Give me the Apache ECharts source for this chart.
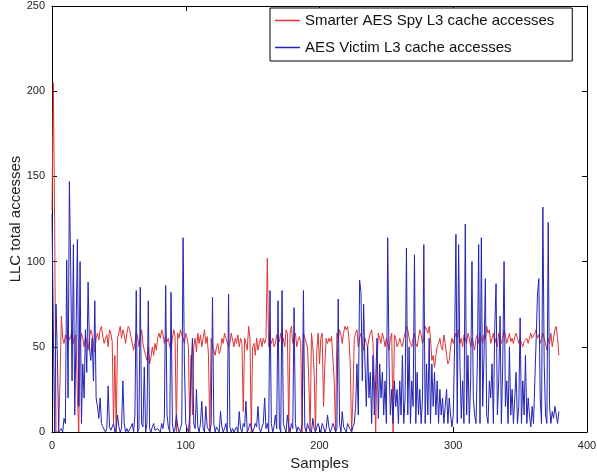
<!DOCTYPE html>
<html>
<head>
<meta charset="utf-8">
<script src="https://cdn.jsdelivr.net/npm/echarts@6/dist/echarts.min.js"></script>
<style>
html,body{margin:0;padding:0;background:#fff;}
#c{width:597px;height:474px;}
</style>
</head>
<body>
<div id="c"></div>
<script>
const seriesNames = ['Smarter AES Spy L3 cache accesses', 'AES Victim L3 cache accesses'];
const xTicks = [0, 100, 200, 300, 400];
const yTicks = [0, 50, 100, 150, 200, 250];

const spy = [
130,205,120,0,0,0,30,68,55,52,
57,55,58,54,56,60,52,55,57,20,
0,52,58,55,50,56,53,48,55,60,
57,52,47,55,58,54,60,62,56,52,
55,57,50,60,58,53,5,45,0,55,
58,62,55,60,57,52,58,62,60,56,
55,48,52,58,56,50,55,60,52,48,
45,42,50,40,44,50,45,52,48,55,
58,55,60,57,52,56,53,55,50,48,
55,60,56,0,58,55,60,57,55,52,
58,55,50,0,45,10,50,55,47,58,
52,57,50,55,60,52,56,45,0,55,
50,48,45,50,52,46,48,55,52,58,
55,56,50,52,58,54,50,55,52,57,
50,55,52,12,55,52,48,62,55,0,
50,52,45,55,48,52,55,50,55,52,
55,102,50,55,52,55,50,52,57,55,
53,58,52,55,50,60,58,0,58,62,
52,55,58,50,54,56,52,0,58,55,
55,50,30,0,58,50,35,0,48,58,
40,55,58,15,40,55,52,55,53,56,
55,30,0,58,55,60,57,52,58,62,
60,62,55,40,0,20,55,58,60,50,
55,58,52,48,55,52,50,55,58,60,
52,30,0,40,58,55,52,58,55,50,
55,52,48,55,58,0,57,55,50,52,
55,52,50,55,58,62,60,55,52,50,
55,58,52,50,55,60,57,52,55,62,
60,58,62,55,42,45,38,45,50,52,
55,50,48,57,52,45,40,42,50,55,
52,55,58,55,60,52,55,50,57,55,
52,58,55,50,55,52,48,55,57,52,
58,55,52,57,55,62,58,60,52,55,
58,52,55,50,58,55,52,55,60,57,
52,55,58,53,55,52,56,58,55,52,
55,52,50,53,52,55,52,55,58,55,
56,58,60,55,57,52,55,58,55,52,
48,55,52,58,50,55,60,62,55,45
];

const victim = [
128,60,0,75,45,0,0,2,0,8,
5,101,20,147,95,30,110,10,60,113,
15,100,5,40,20,60,35,88,50,42,
55,30,77,20,15,8,20,5,3,2,
0,2,27,3,1,0,5,0,2,10,
3,0,2,30,5,0,2,0,1,3,
5,0,10,83,0,2,85,5,3,38,
0,5,77,2,0,3,5,1,0,2,
3,0,5,2,8,86,10,3,0,82,
5,0,2,10,3,0,2,5,114,40,
5,2,0,10,37,55,5,2,25,3,
0,5,18,2,0,15,3,2,0,5,
79,5,0,3,2,0,12,3,0,2,
5,0,81,3,0,2,0,1,3,0,
12,2,0,5,3,18,0,2,5,3,
0,2,5,3,15,2,0,3,5,20,
2,5,0,83,5,0,3,10,2,77,
3,0,83,5,2,0,10,3,0,5,
2,73,5,0,3,2,0,5,83,3,
0,5,2,3,0,8,2,0,3,5,
2,0,5,3,0,2,10,3,0,2,
5,3,0,2,78,5,0,12,3,2,
0,5,3,2,0,3,5,15,40,10,
89,82,30,75,40,15,50,20,35,5,
45,10,30,55,8,40,20,35,10,30,
5,114,40,10,25,5,30,15,25,5,
30,10,45,5,20,108,10,50,5,30,
15,104,5,35,10,25,5,20,110,5,
40,10,55,5,40,15,35,10,30,5,
25,10,20,5,15,25,5,20,10,3,
10,50,116,5,110,40,8,30,5,122,
10,45,5,30,100,20,10,5,40,110,
5,114,15,45,90,10,5,30,20,40,
5,60,87,10,30,68,5,40,100,15,
30,5,50,10,25,5,20,35,5,15,
67,5,30,10,45,5,20,10,3,15,
5,30,55,81,90,20,5,132,40,10,
5,123,15,5,12,8,15,10,5,12
];

const toXY = arr => arr.map((v, i) => [i, v]);
const font = 'Liberation Sans, Arial, Helvetica, sans-serif';

const chart = echarts.init(document.getElementById('c'), null, {renderer: 'canvas'});
const axisCommon = () => ({
  axisLine: {show: true, onZero: false, lineStyle: {color: '#000', width: 1}},
  axisTick: {show: true, inside: true, length: 5, lineStyle: {color: '#000'}},
  splitLine: {show: false}
});
chart.setOption({
  animation: false,
  backgroundColor: '#fff',
  grid: {left: 52, right: 10, top: 6, bottom: 42, containLabel: false, outerBoundsMode: 'none'},
  legend: {
    left: 270, top: 8,
    orient: 'vertical',
    data: seriesNames,
    icon: 'rect',
    itemWidth: 25, itemHeight: 1.5,
    itemGap: 12, itemTextGap: 11,
    padding: [5, 18, 6, 5],
    borderColor: '#000', borderWidth: 1,
    backgroundColor: '#fff',
    textStyle: {fontFamily: font, fontSize: 15, color: '#111'}
  },
  xAxis: [Object.assign({
    type: 'value', min: 0, max: 400, interval: 100,
    name: 'Samples', nameLocation: 'middle', nameGap: 22,
    nameTextStyle: {fontFamily: font, fontSize: 15, color: '#222'},
    axisLabel: {fontFamily: font, fontSize: 11, color: '#222', margin: 8}
  }, axisCommon()), Object.assign({
    type: 'value', min: 0, max: 400, interval: 100, position: 'top',
    axisLabel: {show: false}
  }, axisCommon())],
  yAxis: [Object.assign({
    type: 'value', min: 0, max: 250, interval: 50,
    name: 'LLC total accesses', nameLocation: 'middle', nameGap: 29,
    nameMoveOverlap: false,
    nameTextStyle: {fontFamily: font, fontSize: 15, color: '#222'},
    axisLabel: {fontFamily: font, fontSize: 11, color: '#222', margin: 7}
  }, axisCommon()), Object.assign({
    type: 'value', min: 0, max: 250, interval: 50, position: 'right',
    axisLabel: {show: false}
  }, axisCommon())],
  series: [{
    name: seriesNames[0], type: 'line', data: toXY(spy),
    showSymbol: false, symbol: 'none',
    lineStyle: {color: '#e03434', width: 1}, itemStyle: {color: '#e03434'},
    z: 2
  }, {
    name: seriesNames[1], type: 'line', data: toXY(victim),
    showSymbol: false, symbol: 'none',
    lineStyle: {color: '#2323b8', width: 1}, itemStyle: {color: '#2323b8'},
    z: 3
  }]
});
</script>
</body>
</html>
